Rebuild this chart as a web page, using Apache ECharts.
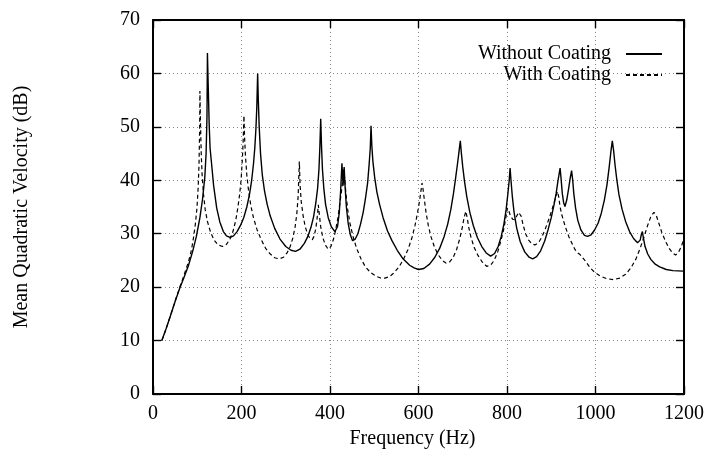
<!DOCTYPE html>
<html>

<head>
    <meta charset="UTF-8" />
    <script src="https://cdn.jsdelivr.net/npm/echarts@6/dist/echarts.min.js"></script>
</head>

<body style="margin: 0; overflow: hidden; background: #fff; width: 705px; height: 453px;">
    <div id="chart" style="width: 705px; height: 453px;"></div>
    <script type="text/javascript">

        // Without Coating (solid)
        const solidFreq = [20, 30, 40, 50, 60, 70, 80, 90, 98, 106, 112, 117, 120, 122, 123, 125, 127, 129, 132.6, 137,
            144, 151, 159, 166, 174, 182, 190, 198, 205, 212, 218, 223, 227, 230, 232.5, 234.5, 236.5, 238, 240, 243,
            247, 252, 258, 265, 275, 287, 300, 312, 322, 332, 342, 350, 357, 363, 368, 372, 375, 377, 379, 381,
            383, 386, 390, 396, 403, 411, 417, 421, 424, 427, 429.5, 432, 434, 437, 441, 446, 451, 457, 463, 469,
            475, 480, 485, 488, 491, 492.7, 494.5, 497, 501, 506, 512, 520, 530, 540, 552, 565, 580, 590, 600, 612,
            625, 637, 648, 658, 666, 673, 679, 684, 688, 691, 694.5, 697, 700, 704, 709, 716, 724, 733, 743, 753,
            763, 772, 780, 787, 793, 798, 802, 805, 807, 809, 812, 816, 822, 830, 840, 850, 858, 867, 876, 885,
            893, 900, 906, 911, 915, 918, 920, 922, 925, 928, 931, 935, 939, 943, 946, 948.5, 951, 955, 960, 967,
            975, 982, 990, 998, 1006, 1013, 1020, 1026, 1031, 1035, 1038, 1041, 1044, 1048, 1053, 1060, 1068, 1077, 1086, 1095,
            1101, 1104, 1106, 1108, 1112, 1118, 1125, 1135, 1145, 1160, 1175, 1198];
        const solidDb = [10, 12.3, 14.8, 17.3, 19.7, 21.8, 24, 26.8, 29.5, 33, 36.5, 40.5, 45, 52, 63.8, 57, 50.4, 46, 42.9, 39,
            34.8, 32.2, 30.4, 29.6, 29.3, 29.6, 30.4, 31.6, 33, 35, 37.3, 40, 43, 46, 49.5, 53.5, 60, 55, 50, 45,
            41, 38, 35.5, 33.3, 31, 29, 27.6, 26.9, 26.7, 27.1, 28.2, 29.5, 31.2, 33.2, 35.8, 38.5, 42, 46, 51.5, 46,
            42, 38.5, 35.5, 33, 31.3, 30.4, 31.3, 34, 38, 43.2, 39, 42.5, 39, 35, 32, 29.8, 28.7, 29, 30, 31.8,
            34, 36.5, 39.5, 42.5, 46, 50.2, 46.5, 43.5, 40.5, 37.8, 35.5, 33, 30.5, 28.7, 26.9, 25.3, 24.1, 23.6, 23.3, 23.5,
            24.3, 25.6, 27.3, 29.5, 31.8, 34.5, 37.5, 40.5, 43, 45, 47.4, 45, 42.5, 39.8, 37, 34, 31.5, 29.3, 27.6, 26.4,
            25.8, 26.3, 27.6, 29.5, 31.8, 34.5, 37.5, 40, 42.3, 40, 37, 34, 31, 28.5, 26.6, 25.6, 25.3, 25.7, 26.8, 28.6,
            30.8, 33, 35.3, 37.5, 39.8, 41.3, 42.3, 40.5, 37.5, 35.8, 35.1, 36.3, 38.3, 40.5, 41.8, 40, 37.5, 34.8, 32.5, 30.7,
            29.7, 29.5, 29.8, 30.7, 32, 33.8, 36.3, 39.2, 42.5, 45.5, 47.4, 45.5, 43, 40.2, 37.3, 34.6, 32.3, 30.4, 29.1, 28.3,
            28.8, 30, 30.4, 29.3, 27.6, 26.2, 25.2, 24.3, 23.8, 23.3, 23.1, 23];

        // With Coating (dashed)
        const coatFreq = [20, 30, 40, 50, 60, 70, 80, 87, 92, 96, 99.5, 102, 104, 105.5, 106, 107.5, 109, 111, 114, 118,
            123, 130, 138, 147, 157.5, 166, 174, 181, 187, 192, 196, 199, 202, 204, 205.6, 207, 209, 212, 216, 221,
            227, 235, 245, 255, 265, 275, 285.5, 295, 303, 310, 316, 321, 325, 328, 330.7, 332.5, 335, 339, 344, 350,
            355, 360, 364, 368, 371, 373.6, 376, 379, 384, 390, 396, 402, 408, 413, 418, 422, 426, 429, 431, 433,
            436, 440, 445, 452, 460, 470, 480, 492, 505, 515, 524, 535, 545, 556, 566, 576, 585, 592, 598, 603,
            606, 608, 610, 613, 617, 622, 628, 636, 645, 654, 662, 670, 678, 686, 693, 699, 703, 707, 710, 714,
            719, 726, 734, 744, 754, 763, 771, 779, 786, 792, 797, 801, 804, 808, 813, 818, 822, 826, 829, 832,
            836, 842, 849, 856, 863, 871, 879, 887, 895, 902, 908, 912, 914.5, 917, 920, 924, 931, 940, 948, 954,
            960, 965, 970, 978, 988, 998, 1010, 1025, 1040, 1055, 1068, 1080, 1091, 1101, 1110, 1118, 1125, 1132, 1137, 1143,
            1150, 1158, 1166, 1174, 1181, 1188, 1194, 1198];
        const coatDb = [10, 12.3, 14.8, 17.4, 19.9, 22.2, 24.7, 27, 29.5, 32, 35, 38.5, 43, 50, 56.7, 50, 45, 41, 37.5, 34.5,
            32.3, 30.3, 28.8, 27.9, 27.6, 28, 29, 30.5, 32.5, 35, 37.5, 40, 44, 48, 52.1, 48, 44.5, 41, 38, 35.3,
            33, 30.8, 28.8, 27.2, 26.2, 25.5, 25.3, 25.6, 26.4, 27.6, 29.2, 31.2, 33.7, 37, 43.5, 39, 36, 33.5, 31.3, 29.8,
            29.1, 28.9, 29.5, 31, 33, 35.4, 33.5, 31.3, 29.2, 27.8, 27.1, 27.6, 29, 30.8, 33, 35.5, 38, 40.3, 42, 40.5,
            37.5, 34.5, 32, 29.5, 27.3, 25.3, 23.8, 22.7, 22, 21.7, 21.7, 22, 22.7, 23.8, 25.2, 27, 29.2, 31.5, 34, 36.5,
            38.3, 39.5, 38.5, 36.5, 34, 31.6, 29.5, 27.5, 26, 25, 24.5, 24.7, 25.5, 27, 29, 31.2, 33, 34.2, 33, 31,
            29.2, 27.4, 26, 24.7, 23.9, 24.1, 25, 26.6, 28.6, 30.6, 32.8, 34.8, 34.3, 33.3, 32.7, 32.6, 33.3, 34, 34.2, 33.3,
            31.8, 30, 28.8, 28.1, 27.9, 28.3, 29.4, 31, 32.8, 34.6, 36.3, 37.4, 37.9, 36.8, 35, 33.5, 31.5, 29.4, 28, 27,
            26.4, 26.1, 25.6, 24.8, 23.6, 22.8, 22.1, 21.6, 21.4, 21.7, 22.4, 23.6, 25.2, 27.3, 29.5, 31.6, 33.2, 34, 33.5, 32,
            30.2, 28.6, 27.3, 26.4, 26, 26.6, 27.6, 28.6];

        const xTicks = { min: 0, max: 1200, interval: 200 };
        const yTicks = { min: 0, max: 70, interval: 10 };

        function pairs(xs, ys) {
            return xs.map((x, i) => [x, ys[i]]);
        }

        const font = '"Liberation Serif", "DejaVu Serif", serif';
        const tickStyle = { show: true, inside: true, length: 8, lineStyle: { color: '#000', width: 1.4 } };
        const lineStyleAxis = { show: true, onZero: false, lineStyle: { color: '#000', width: 2 } };
        const gridStyle = { show: true, lineStyle: { color: '#888', width: 1, type: [1, 3] } };
        const plain = v => String(v);

        const myChart = echarts.init(document.getElementById('chart'));

        const option = {
            animation: false,
            backgroundColor: '#fff',
            textStyle: { fontFamily: font, color: '#000' },
            grid: { left: 153, right: 21, top: 20, bottom: 59, containLabel: false, outerBoundsMode: 'none' },
            legend: [
                {
                    data: ['Without Coating'], right: 42, top: 44, padding: 0, align: 'right',
                    itemWidth: 36, itemHeight: 14, itemStyle: { opacity: 0 },
                    textStyle: { fontFamily: font, fontSize: 20, color: '#000', padding: [0, 10, 0, 0] }
                },
                {
                    data: ['With Coating'], right: 42, top: 65, padding: 0, align: 'right',
                    itemWidth: 36, itemHeight: 14, itemStyle: { opacity: 0 },
                    textStyle: { fontFamily: font, fontSize: 20, color: '#000', padding: [0, 10, 0, 0] }
                }
            ],
            xAxis: [
                {
                    type: 'value', min: xTicks.min, max: xTicks.max, interval: xTicks.interval,
                    name: 'Frequency (Hz)', nameLocation: 'middle', nameGap: 32,
                    nameTextStyle: { fontFamily: font, fontSize: 20, color: '#000', padding: [0, 12, 0, 0] },
                    axisLine: lineStyleAxis, axisTick: tickStyle, splitLine: gridStyle,
                    axisLabel: { fontFamily: font, fontSize: 20, color: '#000', margin: 10, formatter: plain }
                },
                {
                    type: 'value', position: 'top', min: xTicks.min, max: xTicks.max, interval: xTicks.interval,
                    axisLine: lineStyleAxis, axisTick: tickStyle, splitLine: { show: false },
                    axisLabel: { show: false }
                }
            ],
            yAxis: [
                {
                    type: 'value', min: yTicks.min, max: yTicks.max, interval: yTicks.interval,
                    name: 'Mean Quadratic Velocity (dB)', nameLocation: 'middle', nameGap: 121,
                    nameTextStyle: { fontFamily: font, fontSize: 20, color: '#000' },
                    axisLine: lineStyleAxis, axisTick: tickStyle, splitLine: gridStyle,
                    axisLabel: { fontFamily: font, fontSize: 20, color: '#000', margin: 13, formatter: plain }
                },
                {
                    type: 'value', position: 'right', min: yTicks.min, max: yTicks.max, interval: yTicks.interval,
                    axisLine: lineStyleAxis, axisTick: tickStyle, splitLine: { show: false },
                    axisLabel: { show: false }
                }
            ],
            series: [
                {
                    name: 'Without Coating', type: 'line', data: pairs(solidFreq, solidDb),
                    symbol: 'none', showSymbol: false, smooth: false,
                    lineStyle: { color: '#000', width: 1.4, type: 'solid' },
                    itemStyle: { color: '#000' }
                },
                {
                    name: 'With Coating', type: 'line', data: pairs(coatFreq, coatDb),
                    symbol: 'none', showSymbol: false, smooth: false,
                    lineStyle: { color: '#000', width: 1.2, type: [4, 3] },
                    itemStyle: { color: '#000' }
                }
            ]
        };

        myChart.setOption(option);

    </script>
</body>

</html>
